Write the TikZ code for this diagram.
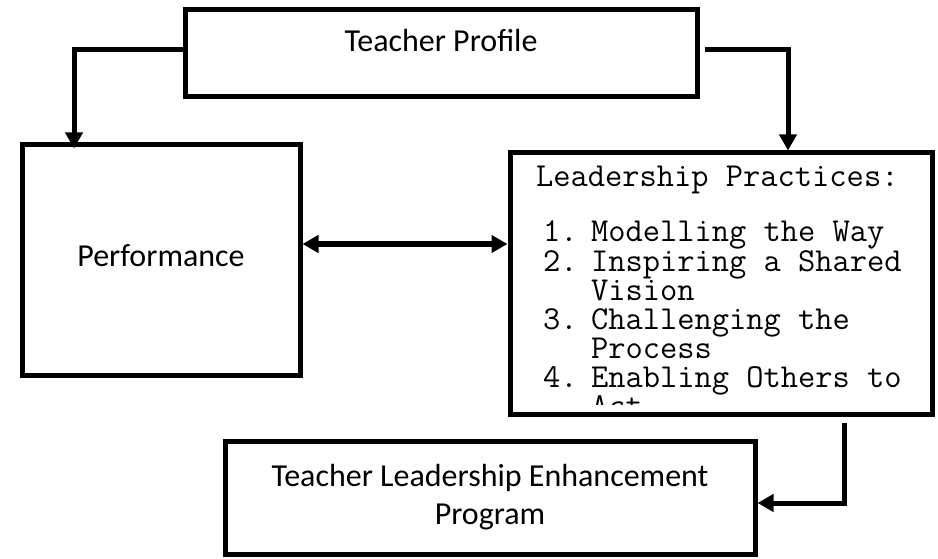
\documentclass[tikz,border=0pt]{standalone}
\usepackage{fontspec}
\setmainfont{Carlito}
\usetikzlibrary{arrows.meta}

\begin{document}
\begin{tikzpicture}[x=1pt, y=-1pt, line join=miter,
	>={Triangle[width=17pt, length=16pt]},
	box/.style={draw, line width=5pt, inner sep=0pt},
	conn/.style={line width=5pt},
	lbl/.style={font=\fontsize{32}{38}\selectfont, align=center, inner sep=0pt},
	mono/.style={font=\ttfamily\fontsize{33.5}{29}\selectfont, inner sep=0pt,
		text height=19pt, text depth=6pt, anchor=base west}]
	\useasboundingbox (0,0) rectangle (938,559);
	% ==========================================
	% Boxes
	\node[box, minimum width=512pt, minimum height=86.5pt] (profile) at (441,53) {};
	\node[lbl, anchor=base] (profiletxt) at ([yshift=1pt]profile.center) {Teacher Profile};
	\node[box, minimum width=278pt, minimum height=230pt] (perf) at (161,260) {};
	\node[lbl, anchor=base] (perftxt) at ([yshift=-6pt]perf.center) {Performance};
	\node[box, minimum width=422pt, minimum height=261pt] (lead) at (721,283.5) {};
	\node[box, lbl, minimum width=530pt, minimum height=113pt] (program) at (490,497.5)
		{Teacher Leadership Enhancement\\Program};
	% ==========================================
	% Practices list, cut off at the bottom of the box
	\begin{scope}
		\clip (512.5,157.5) rectangle (929.5,404.5);
		\node[mono] (lphead) at (536,187) {Leadership Practices:};
		\foreach \k/\num/\txt in {0/1./Modelling the Way, 1/2./Inspiring a Shared, 2//Vision,
			3/3./Challenging the, 4//Process, 5/4./Enabling Others to, 6//Act}
			\node[mono] (lp\k) at (543,{242+29*\k}) {\makebox[48pt][l]{\num}\txt};
	\end{scope}
	% ==========================================
	% Connectors
	\draw[conn, ->] ([yshift=3pt]profile.west) -| ([shift={(-87pt,-6pt)}]perf.north);
	\draw[conn, ->] ([shift={(5pt,3.5pt)}]profile.east) -| ([xshift=67pt]lead.north);
	\draw[conn, <->] ([yshift=16pt]perf.east) coordinate (mid) -- (mid -| lead.west);
	\draw[conn, ->] ([shift={(123pt,-6.5pt)}]lead.south) |- ([yshift=-5.5pt]program.east);
\end{tikzpicture}
\end{document}
